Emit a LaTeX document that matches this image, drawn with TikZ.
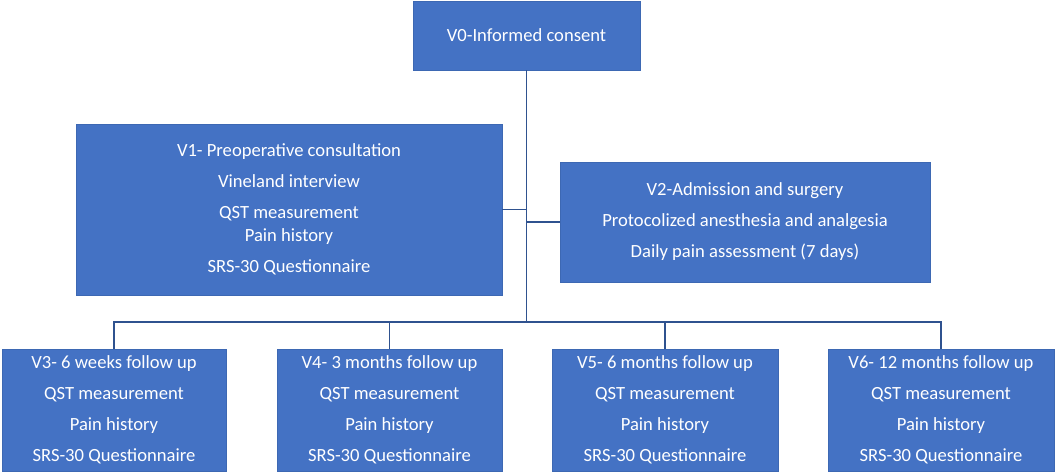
\documentclass[tikz,border=0pt]{standalone}
\usepackage{fontspec}
\setmainfont{Carlito}
\usepackage{tikz}

\definecolor{boxblue}{HTML}{4472C4}
\definecolor{edgeblue}{HTML}{3D68B3}
\definecolor{lineblue}{HTML}{2F528F}

\begin{document}
\begin{tikzpicture}[x=1pt,y=-1pt,
   visit/.style={draw=edgeblue,fill=boxblue,text=white,inner sep=0pt,align=center,
                 font=\fontsize{18.6}{23}\selectfont},
   link/.style={draw=lineblue,line width=1.4pt}]
         \useasboundingbox (0,0) rectangle (1056,473);

         \node[visit,minimum width=227pt,minimum height=69pt] (v0) at (526.5,35.5) {V0-Informed consent};
         \node[visit,minimum width=426pt,minimum height=171pt] (v1) at (289,209.5)
            {V1- Preoperative consultation\\[8pt] Vineland interview\\[8pt] QST measurement\\ Pain history\\[8pt] SRS-30 Questionnaire};
         \node[visit,minimum width=370pt,minimum height=120pt] (v2) at (745,222)
            {V2-Admission and surgery\\[8pt] Protocolized anesthesia and analgesia\\[8pt] Daily pain assessment (7 days)};
         \node[visit,minimum width=224pt,minimum height=122pt] (v3) at (114,410)
            {V3- 6 weeks follow up\\[8pt] QST measurement\\[8pt] Pain history\\[8pt] SRS-30 Questionnaire};
         \node[visit,minimum width=225pt,minimum height=122pt] (v4) at (389.5,410)
            {V4- 3 months follow up\\[8pt] QST measurement\\[8pt] Pain history\\[8pt] SRS-30 Questionnaire};
         \node[visit,minimum width=226pt,minimum height=122pt] (v5) at (665,410)
            {V5- 6 months follow up\\[8pt] QST measurement\\[8pt] Pain history\\[8pt] SRS-30 Questionnaire};
         \node[visit,minimum width=226pt,minimum height=122pt] (v6) at (941,410)
            {V6- 12 months follow up\\[8pt] QST measurement\\[8pt] Pain history\\[8pt] SRS-30 Questionnaire};

         \coordinate (bus) at (526.5,322);

         \draw[link] (v0.south) -- (bus);
         \draw[link] (v1.east) -- (v1.east -| bus);
         \draw[link] (v2.west) -- (v2.west -| bus);
         \draw[link] (v3.north) |- (bus) -| (v6.north);
         \draw[link] (v4.north) -- (v4.north |- bus);
         \draw[link] (v5.north) -- (v5.north |- bus);
\end{tikzpicture}
\end{document}
